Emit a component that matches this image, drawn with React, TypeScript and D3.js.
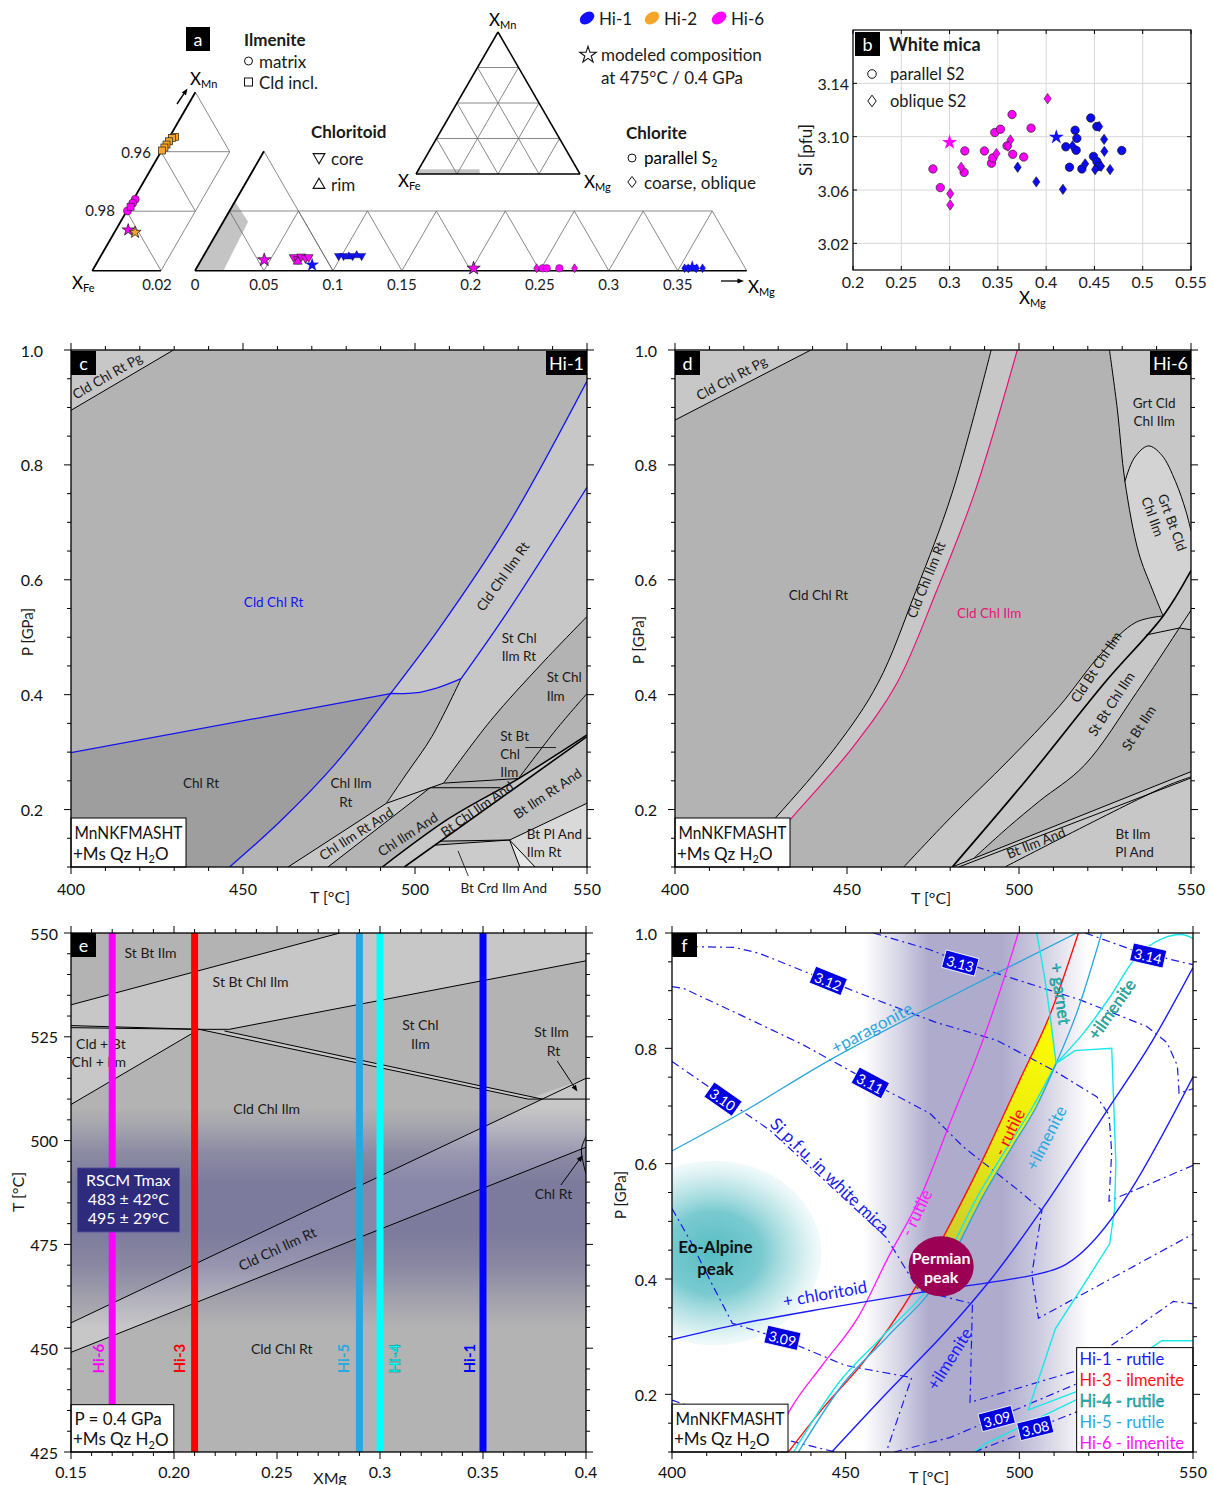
import React from "react";
import * as d3 from "d3";

type Pt = [number, number];
type Scale = d3.ScaleLinear<number, number>;

const FONT = "Lato, 'Open Sans', 'DejaVu Sans', sans-serif";
const MED = "#b3b3b3";
const DARK = "#9e9e9e";
const LIGHT = "#c7c7c7";
const LIGHTER = "#d9d9d9";
const BLUE = "#1414f0";
const MAG = "#ff00ff";
const ORANGE = "#f5a52a";

/* ======================= DATA ======================= */
// ---- panel a : ternary strips, points are [X_Mg, X_Mn]
const stripTicks = [0, 0.05, 0.1, 0.15, 0.2, 0.25, 0.3, 0.35];
const stripTickLabels = ["0", "0.05", "0.1", "0.15", "0.2", "0.25", "0.3", "0.35"];
const ternaryLines = [0.25, 0.5, 0.75];
const ilmHi2Squares: Pt[] = [[0.0016, 0.045], [0.0009, 0.0446], [0.0006, 0.0435], [0.0004, 0.0424], [0.0003, 0.0414], [0.0001, 0.0404]];
const ilmHi6Circles: Pt[] = [[0.0005, 0.024], [0.0004, 0.0227], [0.0002, 0.0201]];
const ilmHi6Squares: Pt[] = [[0.0004, 0.0215]];
const ilmStarHi6: Pt = [0.0036, 0.0137];
const ilmStarHi2: Pt = [0.006, 0.0129];
const cldStarHi6: Pt = [0.0457, 0.009];
const cldCoreHi6: Pt[] = [[0.0659, 0.0113], [0.0697, 0.0096], [0.0711, 0.0118], [0.0749, 0.0104], [0.0768, 0.0113]];
const cldRimHi6: Pt[] = [[0.0707, 0.0076]];
const cldStarHi1: Pt = [0.0825, 0.0048];
const cldCoreHi1: Pt[] = [[0.0979, 0.0124], [0.1015, 0.0124], [0.1081, 0.0124], [0.1146, 0.0124]];
const cldRimHi1: Pt[] = [[0.1056, 0.0118], [0.1108, 0.0128]];
const chlStarHi6: Pt = [0.201, 0.002];
const chlCirclesHi6 = [0.2511, 0.254, 0.2632];
const chlDiamondsHi6 = [0.2467, 0.2742];
const chlStarHi1 = 0.359;
const chlDiamondsHi1 = [0.354, 0.3566, 0.3626, 0.367];
const topBand: Pt[] = [[0, 0], [0, 0.033], [0.37, 0.033], [0.39, 0]];
const stripBand: Pt[] = [[0, 0], [0, 0.058], [0.018, 0.041], [0.0206, 0]];

// ---- panel b : white mica [X_Mg, Si]
const bXTicks = [0.2, 0.25, 0.3, 0.35, 0.4, 0.45, 0.5, 0.55];
const bXLabels = ["0.2", "0.25", "0.3", "0.35", "0.4", "0.45", "0.5", "0.55"];
const bYTicks = [3.02, 3.06, 3.1, 3.14];
const bYLabels = ["3.02", "3.06", "3.10", "3.14"];
const wmCircHi6: Pt[] = [[0.2828, 3.0758], [0.2904, 3.0618], [0.3158, 3.0893], [0.3151, 3.0732], [0.3361, 3.0893], [0.3434, 3.0801], [0.3447, 3.084], [0.3468, 3.1031], [0.3527, 3.1056], [0.3647, 3.1166], [0.3595, 3.0931], [0.3654, 3.0868], [0.3768, 3.0847], [0.3844, 3.1064]];
const wmDiaHi6: Pt[] = [[0.4015, 3.1285], [0.363, 3.0975], [0.3485, 3.0873], [0.3606, 3.0929], [0.312, 3.077], [0.3007, 3.0572], [0.3007, 3.0488]];
const wmCircHi1: Pt[] = [[0.4462, 3.114], [0.4525, 3.1076], [0.43, 3.1048], [0.4318, 3.0987], [0.4204, 3.0924], [0.4311, 3.0898], [0.449, 3.0852], [0.4525, 3.0814], [0.4242, 3.0771], [0.437, 3.0758], [0.454, 3.0776], [0.4783, 3.0896]];
const wmDiaHi1: Pt[] = [[0.4549, 3.1076], [0.46, 3.098], [0.4603, 3.089], [0.4273, 3.0931], [0.4404, 3.0796], [0.4507, 3.0753], [0.4569, 3.0778], [0.4662, 3.0753], [0.3705, 3.0771], [0.3898, 3.0661], [0.4174, 3.0605]];
const wmStarHi6: Pt = [0.3, 3.0957];
const wmStarHi1: Pt = [0.4105, 3.0997];

// ---- shared P-T axes
const tMinor = d3.range(400, 551, 10);
const tMajor = [400, 450, 500, 550];
const tMajorLab = ["400", "450", "500", "550"];
const pMinor = d3.range(2, 21).map((i) => i * 0.05);
const pMajor = [0.2, 0.4, 0.6, 0.8, 1.0];
const pMajorLab = ["0.2", "0.4", "0.6", "0.8", "1.0"];

// ---- panel c (Hi-1) [T, P]
const cPgLine: Pt[] = [[400, 0.895], [429.8, 1.0]];
const cBlueA: Pt[] = [[446.1, 0.1], [460.9, 0.18], [476.9, 0.28], [492.9, 0.402], [506.9, 0.514], [527, 0.695], [550, 0.946]];
const cBlueB: Pt[] = [[513.4, 0.428], [527, 0.545], [550, 0.761]];
const cChldA: Pt[] = [[400, 0.299], [492.9, 0.402]];
const cChldB: Pt[] = [[492.9, 0.402], [500, 0.403], [506.5, 0.412], [513.4, 0.428]];
const cBlkCurve: Pt[] = [[513.4, 0.428], [504.9, 0.327], [497.5, 0.262], [491.7, 0.211]];
const cSteep: Pt[] = [[550, 0.536], [537, 0.455], [522, 0.355], [508.3, 0.246]];
const cStBt: Pt[] = [[550, 0.402], [541, 0.339], [530.1, 0.254]];
const cL1: Pt[] = [[463.1, 0.1], [491.7, 0.211]];
const cL2: Pt[] = [[474.7, 0.1], [504.4, 0.238]];
const cHa: Pt[] = [[491.7, 0.211], [508.3, 0.246]];
const cHb: Pt[] = [[504.4, 0.238], [524.8, 0.238]];
const cHc: Pt[] = [[508.3, 0.246], [530.1, 0.254]];
const cL3: Pt[] = [[490.5, 0.1], [510, 0.185], [530.1, 0.254], [550, 0.33]];
const cL4: Pt[] = [[496.9, 0.1], [550, 0.327]];
const cL5a: Pt[] = [[507.4, 0.145], [527.5, 0.147], [550, 0.211]];
const cL5b: Pt[] = [[505.8, 0.138], [527.5, 0.147]];
const cL6a: Pt[] = [[527.5, 0.147], [530.5, 0.1]];
const cL6b: Pt[] = [[527.5, 0.147], [534.9, 0.1]];
const cLeader: Pt[] = [[532, 0.308], [541, 0.308]];

// ---- panel d (Hi-6)
const dPgLine: Pt[] = [[400, 0.878], [439.5, 1.0]];
const dLineA: Pt[] = [[416, 0.1], [429.3, 0.186], [447, 0.311], [459, 0.42], [470, 0.58], [480.5, 0.75], [491.9, 1.0]];
const dMagenta: Pt[] = [[421, 0.1], [434, 0.186], [452, 0.311], [464.5, 0.42], [476, 0.58], [487, 0.75], [499.5, 1.0]];
const dGrt: Pt[] = [[526.3, 1.0], [528.6, 0.896], [530.8, 0.771], [534.8, 0.647], [538.7, 0.584], [541.9, 0.537]];
const dEllipse: Pt[] = [[530.8, 0.771], [533.5, 0.812], [537.6, 0.833], [541.5, 0.817], [545.5, 0.771], [548.5, 0.72], [550, 0.685]];
const dCldBt: Pt[] = [[466.5, 0.1], [480.1, 0.186], [497, 0.286], [511.6, 0.379], [524, 0.472], [534, 0.526], [541.9, 0.537]];
const dThick: Pt[] = [[480.6, 0.1], [502.6, 0.255], [525.2, 0.423], [541.9, 0.537], [550, 0.616]];
const dStBt: Pt[] = [[487, 0.116], [497, 0.17], [506, 0.215], [519, 0.277], [534.2, 0.404], [546.6, 0.516]];
const dSmall1: Pt[] = [[537, 0.504], [546.6, 0.516], [550, 0.513]];
const dSmall2: Pt[] = [[546.6, 0.516], [550, 0.547]];
const dBt1: Pt[] = [[480.6, 0.1], [550, 0.266]];
const dBt2: Pt[] = [[482.5, 0.1], [550, 0.255]];
const dBt3: Pt[] = [[495.9, 0.1], [542.1, 0.239], [550, 0.257]];

// ---- panel e (T-X section)
const xmgMinor = d3.range(15, 41).map((i) => i / 100);
const xmgMajor = [0.15, 0.2, 0.25, 0.3, 0.35, 0.4];
const xmgMajorLab = ["0.15", "0.20", "0.25", "0.3", "0.35", "0.4"];
const eTMinor = d3.range(425, 551, 5);
const eTMajor = [425, 450, 475, 500, 525, 550];
const eTMajorLab = ["425", "450", "475", "500", "525", "550"];
const eLineTop: Pt[] = [[0.15, 532.7], [0.2805, 550]];
const eDoubleA: Pt[] = [[0.15, 527.7], [0.2122, 526.8]];
const eDoubleB: Pt[] = [[0.15, 527.2], [0.2122, 526.8]];
const eShortH: Pt[] = [[0.2122, 526.8], [0.2268, 526.8]];
const eStChlUpper: Pt[] = [[0.2268, 526.8], [0.4, 543.3]];
const eDiagA: Pt[] = [[0.2122, 526.8], [0.3719, 510]];
const eDiagB: Pt[] = [[0.2245, 526.4], [0.3787, 510]];
const eH510: Pt[] = [[0.3719, 510], [0.4, 510]];
const eCldBt: Pt[] = [[0.15, 508.7], [0.2122, 526.8]];
const eRtUpper: Pt[] = [[0.15, 456.1], [0.4, 515]];
const eRtLower: Pt[] = [[0.15, 449.0], [0.4, 498.4]];
const eChlRtLoop: Pt[] = [[0.4, 501], [0.3978, 498], [0.3985, 495], [0.4, 492]];
const eBarsX = [0.17, 0.21, 0.29, 0.3, 0.35];
const eBarsName = ["Hi-6", "Hi-3", "Hi-5", "Hi-4", "Hi-1"];
const eBarsLabelX = [0.163, 0.2025, 0.2822, 0.3068, 0.3432];
const ePurpleT = [455, 462, 470, 478, 490, 497, 503, 508];
const ePurpleA = [0, 0.15, 0.35, 0.45, 0.45, 0.33, 0.13, 0];

// ---- panel f (P-T with isopleths)
const fParagonite: Pt[] = [[400, 0.622], [420.5, 0.69], [446.4, 0.783], [480, 0.889], [516.5, 1.0]];
const fHi6: Pt[] = [[428, 0.1], [434, 0.173], [443.2, 0.25], [453.9, 0.337], [461.7, 0.431], [472.4, 0.554], [480, 0.67], [489.2, 0.809], [496.4, 0.936], [499.7, 1.0]];
const fHi3: Pt[] = [[433.5, 0.1], [444, 0.18], [455, 0.255], [469.5, 0.38], [480.5, 0.5], [490.5, 0.62], [500.5, 0.75], [508.8, 0.858], [517, 1.0]];
const fHi5: Pt[] = [[436.4, 0.1], [449.5, 0.22], [462, 0.3], [477, 0.4], [490.5, 0.554], [498, 0.63], [505, 0.7], [510.6, 0.774]];
const fHi5Up: Pt[] = [[510.6, 0.774], [516.5, 0.861], [523.7, 1.0]];
const fHi4: Pt[] = [[435, 0.1], [448, 0.22], [460.5, 0.3], [475.5, 0.4], [489, 0.554], [496.7, 0.63], [504, 0.7], [510.6, 0.774]];
const fHi4Garnet: Pt[] = [[510.6, 0.774], [508.8, 0.858], [507.4, 0.918], [505, 1.0]];
const fHi4IlmBranch: Pt[] = [[510.6, 0.774], [518.4, 0.826], [526.1, 0.889], [533.8, 0.959], [541.5, 0.991], [547.2, 0.997], [550, 0.99]];
const fHi4Box: Pt[] = [[510.6, 0.774], [516, 0.796], [526.6, 0.8], [527.1, 0.716], [527.8, 0.6], [527.4, 0.52], [526, 0.461], [518, 0.385], [510.4, 0.314], [502.6, 0.173], [518, 0.208]];
const fHi4Low: Pt[] = [[487, 0.1], [490.4, 0.115], [518, 0.195]];
const fHi4TopR: Pt[] = [[538, 0.281], [541, 0.293], [550, 0.293]];
const fHi1Chld: Pt[] = [[400, 0.295], [418, 0.32], [445, 0.35], [471, 0.376], [496.8, 0.399], [502.6, 0.405], [513.3, 0.425], [551, 0.762]];
const fHi1Ilm: Pt[] = [[446, 0.1], [461.5, 0.2], [479.2, 0.311], [492.4, 0.404], [507, 0.525], [525, 0.69], [538, 0.81], [550, 0.94]];
const fIso314: Pt[] = [[519, 1.0], [533.8, 0.968], [550, 0.945]];
const fIso313: Pt[] = [[458, 1.0], [474.3, 0.971], [483, 0.95], [493.5, 0.93], [517.5, 0.884], [536.7, 0.838], [542.5, 0.81], [545.5, 0.77], [546, 0.722], [550, 0.73]];
const fIso312: Pt[] = [[400, 0.977], [418, 0.975], [425, 0.965], [444.5, 0.918], [458.9, 0.884], [476, 0.845], [493.5, 0.814], [509.8, 0.762], [522.3, 0.716], [525.8, 0.685], [526.6, 0.62], [525.8, 0.535], [550, 0.597]];
const fIso311: Pt[] = [[400, 0.907], [403.3, 0.904], [418.6, 0.861], [437.8, 0.806], [457, 0.742], [474.3, 0.687], [483.9, 0.629], [499.7, 0.554], [506.5, 0.519], [503.6, 0.408], [505.5, 0.332], [550, 0.478]];
const fIso310: Pt[] = [[400, 0.777], [411.9, 0.728], [420.5, 0.69], [428.2, 0.658], [445, 0.565], [461.7, 0.472], [471, 0.381], [486.5, 0.357], [485.8, 0.186], [516, 0.24], [544.3, 0.361], [550, 0.357]];
const fIso309a: Pt[] = [[400, 0.522], [405.3, 0.466], [411.1, 0.396], [417.4, 0.323], [431.6, 0.296], [450, 0.25], [469, 0.229], [461.7, 0.1]];
const fIso309b: Pt[] = [[464, 0.1], [480, 0.125], [518, 0.222]];
const fIso308: Pt[] = [[487, 0.1], [518, 0.173]];
const fIso308b: Pt[] = [[400, 0.19], [433.5, 0.12], [447, 0.1]];
const fPurpleT = [455, 465, 474, 495, 505, 520];
const fPurpleA = [0, 0.2, 0.42, 0.42, 0.27, 0];
const fIsoLabels = [
  { t: "3.14", T: 537.1, P: 0.961, r: 13 },
  { t: "3.13", T: 483, P: 0.948, r: 15 },
  { t: "3.12", T: 445, P: 0.917, r: 22 },
  { t: "3.11", T: 457.1, P: 0.74, r: 28 },
  { t: "3.10", T: 414.7, P: 0.712, r: 35 },
  { t: "3.09", T: 431.8, P: 0.298, r: 13 },
  { t: "3.09", T: 493.5, P: 0.158, r: -15 },
  { t: "3.08", T: 504.6, P: 0.142, r: -14 },
];
const fLegendNames = ["Hi-1 - rutile", "Hi-3 - ilmenite", "Hi-4 - rutile", "Hi-5 - rutile", "Hi-6 - ilmenite"];
const fLegendColors = ["#1a1aff", "#ff1010", "#10c8c8", "#2aa8e0", "#ff10ff"];

/* ======================= HELPERS ======================= */
const CR = d3.curveCatmullRom.alpha(0.5);
const LIN = d3.curveLinear;
const rev = (a: Pt[]) => a.slice().reverse();
function pathOf(xs: Scale, ys: Scale, pts: Pt[], curve: d3.CurveFactory = LIN): string {
  return d3.line<Pt>().x((d) => xs(d[0])).y((d) => ys(d[1])).curve(curve)(pts) || "";
}
function polyPath(xs: Scale, ys: Scale, pieces: [Pt[], d3.CurveFactory][]): string {
  return (
    pieces
      .map(([pts, c], i) => {
        const p = pathOf(xs, ys, pts, c);
        return i === 0 ? p : "L" + p.slice(1);
      })
      .join("") + "Z"
  );
}
const starPath = (size: number) => d3.symbol().type(d3.symbolStar).size(size)() as string;
const triPath = (size: number) => d3.symbol().type(d3.symbolTriangle).size(size)() as string;
const diamondPath = (w: number, h: number) => `M0,${-h}L${w},0L0,${h}L${-w},0Z`;

function Txt(props: any) {
  const { x, y, t, rot = 0, size = 13.5, fill = "#1a1a1a", anchor = "middle", weight = "normal", stroke } = props;
  return (
    <text
      x={x}
      y={y}
      transform={rot ? `rotate(${rot},${x},${y})` : undefined}
      fontSize={size}
      fill={fill}
      textAnchor={anchor}
      dominantBaseline="central"
      fontWeight={weight}
      stroke={stroke}
      strokeWidth={stroke ? 0.35 : undefined}
    >
      {t}
    </text>
  );
}

function LetterBox({ x, y, t, w = 25 }: any) {
  return (
    <g>
      <rect x={x} y={y} width={w} height={24} fill="#000" />
      <text x={x + w / 2} y={y + 12} fill="#fff" fontSize={18} textAnchor="middle" dominantBaseline="central">
        {t}
      </text>
    </g>
  );
}

function ModelBox({ x, y, w, h, l1, fit }: any) {
  return (
    <g>
      <rect x={x} y={y} width={w} height={h} fill="#fff" stroke="#000" strokeWidth={1} />
      <text
        x={x + 3.5}
        y={y + h * 0.3}
        fontSize={17}
        dominantBaseline="central"
        fill="#111"
        textLength={fit ? w - 7 : undefined}
        lengthAdjust={fit ? "spacingAndGlyphs" : undefined}
      >
        {l1}
      </text>
      <text x={x + 2} y={y + h * 0.72} fontSize={17} dominantBaseline="central" fill="#111">
        +Ms Qz H
        <tspan fontSize={11} dy={5}>2</tspan>
        <tspan dy={-5}>O</tspan>
      </text>
    </g>
  );
}

function FrameAxes(props: any) {
  const { xs, ys, xMin, xMaj, xLab, yMin, yMaj, yLab, yLabX, xLabY } = props;
  const [xa, xb] = xs.range();
  const [ya, yb] = ys.range();
  const els: any[] = [];
  const Lmaj = 7;
  const Lmin = 4;
  xMin.forEach((v: number, i: number) => {
    const X = xs(v);
    const big = xMaj.some((m: number) => Math.abs(m - v) < 1e-6);
    const L = big ? Lmaj : Lmin;
    els.push(<line key={"xb" + i} x1={X} x2={X} y1={ya} y2={ya + L} stroke="#000" strokeWidth={1} />);
    els.push(<line key={"xt" + i} x1={X} x2={X} y1={yb} y2={yb - L} stroke="#000" strokeWidth={1} />);
  });
  yMin.forEach((v: number, i: number) => {
    const Y = ys(v);
    const big = yMaj.some((m: number) => Math.abs(m - v) < 1e-6);
    const L = big ? Lmaj : Lmin;
    els.push(<line key={"yl" + i} x1={xa} x2={xa - L} y1={Y} y2={Y} stroke="#000" strokeWidth={1} />);
    els.push(<line key={"yr" + i} x1={xb} x2={xb + L} y1={Y} y2={Y} stroke="#000" strokeWidth={1} />);
  });
  xMaj.forEach((v: number, i: number) => {
    els.push(
      <text key={"xl" + i} x={xs(v)} y={xLabY} fontSize={16} textAnchor="middle" dominantBaseline="central" fill="#111">
        {xLab[i]}
      </text>
    );
  });
  yMaj.forEach((v: number, i: number) => {
    els.push(
      <text key={"ylb" + i} x={yLabX} y={ys(v)} fontSize={16} textAnchor="end" dominantBaseline="central" fill="#111">
        {yLab[i]}
      </text>
    );
  });
  els.push(<rect key="frame" x={xa} y={yb} width={xb - xa} height={ya - yb} fill="none" stroke="#000" strokeWidth={1.3} />);
  return <g>{els}</g>;
}

function Arrow({ x1, y1, x2, y2, col = "#000", w = 1.2, head = 7 }: any) {
  const ang = Math.atan2(y2 - y1, x2 - x1);
  const a1 = ang + Math.PI - 0.38;
  const a2 = ang + Math.PI + 0.38;
  return (
    <g>
      <line x1={x1} y1={y1} x2={x2 - Math.cos(ang) * head * 0.6} y2={y2 - Math.sin(ang) * head * 0.6} stroke={col} strokeWidth={w} />
      <path
        d={`M${x2},${y2}L${x2 + Math.cos(a1) * head},${y2 + Math.sin(a1) * head}L${x2 + Math.cos(a2) * head},${y2 + Math.sin(a2) * head}Z`}
        fill={col}
      />
    </g>
  );
}

/* ======================= PANEL A ======================= */
function PanelA() {
  const xM = d3.scaleLinear().domain([0, 0.4]).range([195, 746.7]);
  const yM = d3.scaleLinear().domain([0, 0.1]).range([270.7, 151.3]);
  const pM = (mg: number, mn: number): Pt => [xM(mg + mn / 2), yM(mn)];
  const xL = d3.scaleLinear().domain([0, 0.02]).range([92.3, 161]);
  const yL = d3.scaleLinear().domain([0, 0.06]).range([270.7, 92.2]);
  const pL = (mg: number, mn: number): Pt => [xL(mg + mn / 2), yL(mn)];
  const xT = d3.scaleLinear().domain([0, 1]).range([416, 580]);
  const yT = d3.scaleLinear().domain([0, 1]).range([174, 32]);
  const pT = (mg: number, mn: number): Pt => [xT(mg + mn / 2), yT(mn)];
  let k = 0;
  const seg = (a: Pt, b: Pt, sw = 0.8, col = "#6a6a6a") => (
    <line key={"s" + k++} x1={a[0]} y1={a[1]} x2={b[0]} y2={b[1]} stroke={col} strokeWidth={sw} />
  );
  const polyPts = (pts: Pt[], f: (a: number, b: number) => Pt) => pts.map((p) => f(p[0], p[1]).join(",")).join(" ");

  const midLines: any[] = [];
  midLines.push(seg(pM(0, 0.05), pM(0.35, 0.05)));
  stripTicks.forEach((m) => {
    if (m > 0) midLines.push(seg(pM(m, 0), pM(m, 0.05)));
    midLines.push(seg(pM(m, 0.05), pM(m + 0.05, 0)));
  });
  midLines.push(seg(pM(0, 0.1), pM(0.1, 0)));
  midLines.push(seg(pM(0, 0), pM(0.4, 0), 1.4, "#000"));
  midLines.push(seg(pM(0, 0), pM(0, 0.1), 1.8, "#000"));

  const leftLines: any[] = [];
  [0.02, 0.04].forEach((mn) => leftLines.push(seg(pL(0, mn), pL(0.02, mn))));
  leftLines.push(seg(pL(0.02, 0), pL(0.02, 0.04)));
  [0.02, 0.04, 0.06].forEach((s) => leftLines.push(seg(pL(0, s), pL(0.02, s - 0.02))));
  leftLines.push(seg(pL(0, 0), pL(0.02, 0), 1.4, "#000"));
  leftLines.push(seg(pL(0, 0), pL(0, 0.06), 1.8, "#000"));

  const topLines: any[] = [];
  ternaryLines.forEach((f) => {
    topLines.push(seg(pT(0, f), pT(1 - f, f)));
    topLines.push(seg(pT(f, 0), pT(f, 1 - f)));
    topLines.push(seg(pT(1 - f, 0), pT(0, 1 - f)));
  });
  topLines.push(seg(pT(0, 0), pT(1, 0), 1.5, "#000"));
  topLines.push(seg(pT(1, 0), pT(0, 1), 1.5, "#000"));
  topLines.push(seg(pT(0, 1), pT(0, 0), 1.5, "#000"));

  const mk = (p: Pt, d: string, fill: string, key: string, rot = 0, sw = 0.7) => (
    <path key={key} d={d} transform={`translate(${p[0]},${p[1]}) rotate(${rot})`} fill={fill} stroke="#111" strokeWidth={sw} />
  );

  return (
    <g>
      <LetterBox x={186} y={27} t="a" w={24} />
      <polygon points={polyPts(topBand, pT)} fill="#c4c4c4" />
      {topLines}
      <text x={489} y={19} fontSize={17} dominantBaseline="central">X<tspan fontSize={11} dy={5}>Mn</tspan></text>
      <text x={398} y={180} fontSize={17} dominantBaseline="central">X<tspan fontSize={11} dy={5}>Fe</tspan></text>
      <text x={584} y={181} fontSize={17} dominantBaseline="central">X<tspan fontSize={11} dy={5}>Mg</tspan></text>

      {leftLines}
      <Arrow x1={177} y1={104} x2={187.5} y2={88.5} w={1.4} head={7} />
      <text x={190} y={78} fontSize={17} dominantBaseline="central">X<tspan fontSize={11} dy={5}>Mn</tspan></text>
      <text x={72} y={282} fontSize={17} dominantBaseline="central">X<tspan fontSize={11} dy={5}>Fe</tspan></text>
      <Txt x={157} y={284} t="0.02" size={15} />
      <Txt x={151} y={152} t="0.96" size={15} anchor="end" />
      <Txt x={115} y={210} t="0.98" size={15} anchor="end" />
      {ilmHi2Squares.map((p, i) => (
        <rect key={"sq" + i} x={pL(p[0], p[1])[0] - 3.5} y={pL(p[0], p[1])[1] - 3.5} width={7} height={7} fill={ORANGE} stroke="#222" strokeWidth={0.7} />
      ))}
      {ilmHi6Circles.map((p, i) => (
        <circle key={"ic" + i} cx={pL(p[0], p[1])[0]} cy={pL(p[0], p[1])[1]} r={4} fill={MAG} stroke="#222" strokeWidth={0.6} />
      ))}
      {ilmHi6Squares.map((p, i) => (
        <rect key={"is" + i} x={pL(p[0], p[1])[0] - 3.5} y={pL(p[0], p[1])[1] - 3.5} width={7} height={7} fill={MAG} stroke="#222" strokeWidth={0.6} />
      ))}
      {mk(pL(ilmStarHi6[0], ilmStarHi6[1]), starPath(45), MAG, "ilst6")}
      {mk(pL(ilmStarHi2[0], ilmStarHi2[1]), starPath(45), ORANGE, "ilst2")}

      <polygon points={polyPts(stripBand, pM)} fill="#c4c4c4" />
      {midLines}
      {stripTicks.map((v, i) => (
        <Txt key={"stl" + i} x={xM(v)} y={284} t={stripTickLabels[i]} size={15} />
      ))}
      <Arrow x1={721} y1={281} x2={744} y2={281} w={1.3} head={7} />
      <text x={748} y={286} fontSize={17} dominantBaseline="central">X<tspan fontSize={11} dy={5}>Mg</tspan></text>

      {cldCoreHi6.map((p, i) => mk(pM(p[0], p[1]), triPath(34), MAG, "c6" + i, 180, 0.6))}
      {cldRimHi6.map((p, i) => mk(pM(p[0], p[1]), triPath(34), MAG, "r6" + i, 0, 0.6))}
      {cldCoreHi1.map((p, i) => mk(pM(p[0], p[1]), triPath(30), "#1010ff", "c1" + i, 180, 0.4))}
      {cldRimHi1.map((p, i) => mk(pM(p[0], p[1]), triPath(30), "#1010ff", "r1" + i, 0, 0.4))}
      {mk(pM(cldStarHi6[0], cldStarHi6[1]), starPath(55), MAG, "cs6")}
      {mk(pM(cldStarHi1[0], cldStarHi1[1]), starPath(55), "#1010ff", "cs1", 0, 0.2)}
      {mk(pM(chlStarHi6[0], chlStarHi6[1]), starPath(55), MAG, "chs6")}
      {chlDiamondsHi6.map((m, i) => mk(pM(m, 0.002), diamondPath(3, 4.5), MAG, "chd6" + i, 0, 0.5))}
      {chlCirclesHi6.map((m, i) => (
        <circle key={"chc" + i} cx={pM(m, 0.002)[0]} cy={pM(m, 0.002)[1]} r={3.8} fill={MAG} stroke="#333" strokeWidth={0.5} />
      ))}
      {chlDiamondsHi1.map((m, i) => mk(pM(m, 0.002), diamondPath(3, 4.5), "#1010ff", "chd1" + i, 0, 0.3))}
      {mk(pM(chlStarHi1, 0.003), starPath(50), "#1010ff", "chs1", 0, 0.2)}

      <Txt x={244} y={39} t="Ilmenite" size={17} weight="bold" anchor="start" />
      <circle cx={248.5} cy={61} r={4} fill="none" stroke="#111" strokeWidth={1} />
      <Txt x={259} y={61} t="matrix" size={17} anchor="start" />
      <rect x={244.5} y={78} width={8} height={8} fill="none" stroke="#111" strokeWidth={1} />
      <Txt x={259} y={82} t="Cld incl." size={17} anchor="start" />

      <Txt x={311} y={131} t="Chloritoid" size={17} weight="bold" anchor="start" />
      <path d={triPath(60)} transform="translate(319,157) rotate(180)" fill="none" stroke="#111" strokeWidth={1.1} />
      <Txt x={331} y={158} t="core" size={17} anchor="start" />
      <path d={triPath(60)} transform="translate(319,185)" fill="none" stroke="#111" strokeWidth={1.1} />
      <Txt x={331} y={184} t="rim" size={17} anchor="start" />

      <Txt x={626} y={132} t="Chlorite" size={17} weight="bold" anchor="start" />
      <circle cx={632} cy={158} r={4} fill="none" stroke="#111" strokeWidth={1} />
      <text x={644} y={157} fontSize={17} dominantBaseline="central">parallel S<tspan fontSize={11} dy={5}>2</tspan></text>
      <path d={diamondPath(4.2, 5.5)} transform="translate(632,182)" fill="none" stroke="#111" strokeWidth={1} />
      <Txt x={644} y={182} t="coarse, oblique" size={17} anchor="start" />

      <ellipse cx={587} cy={18} rx={8} ry={5.5} transform="rotate(-35,587,18)" fill="#1010ff" />
      <Txt x={599} y={18} t="Hi-1" size={17} anchor="start" />
      <ellipse cx={652} cy={18} rx={8} ry={5.5} transform="rotate(-35,652,18)" fill={ORANGE} />
      <Txt x={664} y={18} t="Hi-2" size={17} anchor="start" />
      <ellipse cx={719} cy={18} rx={8} ry={5.5} transform="rotate(-35,719,18)" fill={MAG} />
      <Txt x={731} y={18} t="Hi-6" size={17} anchor="start" />
      <path d={starPath(85)} transform="translate(588,55)" fill="none" stroke="#111" strokeWidth={1.1} />
      <Txt x={601} y={54} t="modeled composition" size={17} anchor="start" />
      <Txt x={601} y={77} t="at 475°C / 0.4 GPa" size={17} anchor="start" />
    </g>
  );
}

/* ======================= PANEL B ======================= */
function PanelB() {
  const x = d3.scaleLinear().domain([0.2, 0.55]).range([853, 1191]);
  const y = d3.scaleLinear().domain([3.0, 3.18]).range([270, 30]);
  const dia = diamondPath(3.6, 5.2);
  return (
    <g>
      {bXTicks.map((v, i) => (
        <line key={"gx" + i} x1={x(v)} x2={x(v)} y1={30} y2={270} stroke="#d8d8d8" strokeWidth={1} />
      ))}
      {bYTicks.map((v, i) => (
        <line key={"gy" + i} x1={853} x2={1191} y1={y(v)} y2={y(v)} stroke="#d8d8d8" strokeWidth={1} />
      ))}
      {bXTicks.map((v, i) => (
        <g key={"tx" + i}>
          <line x1={x(v)} x2={x(v)} y1={270} y2={266} stroke="#000" />
          <line x1={x(v)} x2={x(v)} y1={30} y2={34} stroke="#000" />
          <Txt x={x(v)} y={281} t={bXLabels[i]} size={16} />
        </g>
      ))}
      {bYTicks.map((v, i) => (
        <g key={"ty" + i}>
          <line x1={853} x2={857} y1={y(v)} y2={y(v)} stroke="#000" />
          <line x1={1191} x2={1187} y1={y(v)} y2={y(v)} stroke="#000" />
          <Txt x={849} y={y(v)} t={bYLabels[i]} size={16} anchor="end" />
        </g>
      ))}
      <rect x={853} y={30} width={338} height={240} fill="none" stroke="#000" strokeWidth={1.2} />
      {wmCircHi6.map((p, i) => (
        <circle key={"c6" + i} cx={x(p[0])} cy={y(p[1])} r={4.2} fill={MAG} stroke="#222" strokeWidth={0.7} />
      ))}
      {wmDiaHi6.map((p, i) => (
        <path key={"d6" + i} d={dia} transform={`translate(${x(p[0])},${y(p[1])})`} fill={MAG} stroke="#222" strokeWidth={0.6} />
      ))}
      {wmCircHi1.map((p, i) => (
        <circle key={"c1" + i} cx={x(p[0])} cy={y(p[1])} r={4.2} fill="#0a0af5" stroke="#111" strokeWidth={0.7} />
      ))}
      {wmDiaHi1.map((p, i) => (
        <path key={"d1" + i} d={dia} transform={`translate(${x(p[0])},${y(p[1])})`} fill="#0a0af5" stroke="#111" strokeWidth={0.6} />
      ))}
      <path d={starPath(70)} transform={`translate(${x(wmStarHi6[0])},${y(wmStarHi6[1])})`} fill={MAG} />
      <path d={starPath(70)} transform={`translate(${x(wmStarHi1[0])},${y(wmStarHi1[1])})`} fill="#1010ff" />
      <LetterBox x={855} y={32} t="b" w={25} />
      <Txt x={889} y={44} t="White mica" size={18} weight="bold" anchor="start" />
      <circle cx={872} cy={74} r={4.3} fill="none" stroke="#111" />
      <Txt x={890} y={74} t="parallel S2" size={16.5} anchor="start" />
      <path d={diamondPath(4.2, 5.8)} transform="translate(872,101)" fill="none" stroke="#111" strokeWidth={1} />
      <Txt x={890} y={101} t="oblique S2" size={16.5} anchor="start" />
      <Txt x={805} y={150} t="Si [pfu]" size={17} rot={-90} />
      <text x={1019} y={297} fontSize={17} dominantBaseline="central">X<tspan fontSize={11} dy={5}>Mg</tspan></text>
    </g>
  );
}

/* ======================= PANEL C ======================= */
function PanelC() {
  const x = d3.scaleLinear().domain([400, 550]).range([71, 587]);
  const y = d3.scaleLinear().domain([0.1, 1.0]).range([867, 350]);
  const P = (pts: Pt[], c: d3.CurveFactory = CR) => pathOf(x, y, pts, c);
  const poly = (pieces: [Pt[], d3.CurveFactory][]) => polyPath(x, y, pieces);
  const blk = (pts: Pt[], key: string, w = 1, c: d3.CurveFactory = CR) => <path key={key} d={P(pts, c)} fill="none" stroke="#000" strokeWidth={w} />;
  const T = (t: string, Tt: number, Pp: number, rot = 0, fill = "#1a1a1a", anchor = "middle") => (
    <Txt key={t + Tt + Pp} x={x(Tt)} y={y(Pp)} t={t} rot={rot} fill={fill} anchor={anchor} />
  );
  return (
    <g>
      <defs>
        <clipPath id="clipC">
          <rect x={71} y={350} width={516} height={517} />
        </clipPath>
      </defs>
      <g clipPath="url(#clipC)">
        <rect x={71} y={350} width={516} height={517} fill={MED} />
        <path
          d={poly([
            [cBlueA.slice(3), CR],
            [[[550, 0.946], [550, 0.536]], LIN],
            [cSteep, CR],
            [rev(cHa), LIN],
            [rev(cBlkCurve), CR],
            [rev(cChldB), CR],
          ])}
          fill={LIGHT}
        />
        <path d={poly([[[[400, 0.1], [400, 0.299]], LIN], [cChldA, LIN], [rev(cBlueA.slice(0, 4)), CR]])} fill={DARK} />
        <path d={poly([[[[400, 0.895], [429.8, 1.0], [400, 1.0]], LIN]])} fill={LIGHT} />
        <path d={poly([[cL1, LIN], [[[491.7, 0.211], [504.4, 0.238]], LIN], [rev(cL2), LIN]])} fill={LIGHT} />
        <path d={poly([[cL3, CR], [rev(cL4), LIN]])} fill={LIGHT} />
        <path d={poly([[[[507.4, 0.145], [550, 0.327], [550, 0.211]], LIN], [rev(cL5a), LIN]])} fill="#c1c1c1" />
        <path d={poly([[[[527.5, 0.147], [550, 0.211], [550, 0.1], [534.9, 0.1]], LIN]])} fill={LIGHTER} />
        <path d={poly([[[[527.5, 0.147], [534.9, 0.1], [530.5, 0.1]], LIN]])} fill="#e8e8e8" />
        <path d={poly([[[[496.9, 0.1], [505.8, 0.138], [527.5, 0.147], [530.5, 0.1]], LIN]])} fill="#cbcbcb" />

        {blk(cPgLine, "pg", 1, LIN)}
        {blk(cBlkCurve, "bc")}
        {blk(cSteep, "st")}
        {blk(cStBt, "sb")}
        {blk(cL1, "l1", 1, LIN)}
        {blk(cL2, "l2", 1, LIN)}
        {blk(cHa, "ha", 1, LIN)}
        {blk(cHb, "hb", 1, LIN)}
        {blk(cHc, "hc", 1, LIN)}
        {blk(cL3, "l3", 1.5)}
        {blk(cL4, "l4", 1.6, LIN)}
        {blk(cL5a, "l5a", 1, LIN)}
        {blk(cL5b, "l5b", 1, LIN)}
        {blk(cL6a, "l6a", 1, LIN)}
        {blk(cL6b, "l6b", 1, LIN)}
        {blk(cLeader, "ld", 0.8, LIN)}
        <path d={P(cBlueA)} fill="none" stroke={BLUE} strokeWidth={1.3} />
        <path d={P(cBlueB)} fill="none" stroke={BLUE} strokeWidth={1.3} />
        <path d={P(cChldA, LIN)} fill="none" stroke={BLUE} strokeWidth={1.3} />
        <path d={P(cChldB)} fill="none" stroke={BLUE} strokeWidth={1.3} />

        {T("Cld Chl Rt Pg", 410.5, 0.955, -30)}
        {T("Cld Chl Rt", 458.9, 0.562, 0, BLUE)}
        {T("Cld Chl Ilm Rt", 525.5, 0.606, -55)}
        {T("St Chl", 525.2, 0.498, 0, "#1a1a1a", "start")}
        {T("Ilm Rt", 525.2, 0.467, 0, "#1a1a1a", "start")}
        {T("St Chl", 538.3, 0.43, 0, "#1a1a1a", "start")}
        {T("Ilm", 538.3, 0.398, 0, "#1a1a1a", "start")}
        {T("St Bt", 524.8, 0.328, 0, "#1a1a1a", "start")}
        {T("Chl", 524.8, 0.297, 0, "#1a1a1a", "start")}
        {T("Ilm", 524.8, 0.266, 0, "#1a1a1a", "start")}
        {T("Chl Rt", 437.8, 0.247)}
        {T("Chl Ilm", 481.4, 0.247)}
        {T("Rt", 479.9, 0.214)}
        {T("Chl Ilm Rt And", 482.9, 0.158, -33)}
        {T("Chl Ilm And", 497.9, 0.157, -33)}
        {T("Bt Chl Ilm And", 518, 0.201, -35)}
        {T("Bt Ilm Rt And", 538.5, 0.228, -34)}
        {T("Bt Pl And", 532.5, 0.158, 0, "#1a1a1a", "start")}
        {T("Ilm Rt", 532.5, 0.126, 0, "#1a1a1a", "start")}
      </g>
      <line x1={x(512.5)} y1={y(0.128)} x2={x(515.5)} y2={y(0.1) + 9} stroke="#000" strokeWidth={0.8} />
      <Txt x={x(525.8)} y={888} t="Bt Crd Ilm And" size={13.5} />
      <LetterBox x={71} y={351} t="c" />
      <rect x={546} y={351} width={41} height={24} fill="#000" />
      <Txt x={566.5} y={363} t="Hi-1" size={18} fill="#fff" />
      <ModelBox x={71} y={818} w={115} h={49} l1="MnNKFMASHT" fit />
      <FrameAxes xs={x} ys={y} xMin={tMinor} xMaj={tMajor} xLab={tMajorLab} yMin={pMinor} yMaj={pMajor} yLab={pMajorLab} yLabX={43} xLabY={888} />
      <Txt x={330} y={896} t="T [°C]" size={16} />
      <Txt x={27} y={632} t="P [GPa]" size={15} rot={-90} />
    </g>
  );
}

/* ======================= PANEL D ======================= */
function PanelD() {
  const x = d3.scaleLinear().domain([400, 550]).range([675, 1191]);
  const y = d3.scaleLinear().domain([0.1, 1.0]).range([867, 350]);
  const P = (pts: Pt[], c: d3.CurveFactory = CR) => pathOf(x, y, pts, c);
  const poly = (pieces: [Pt[], d3.CurveFactory][]) => polyPath(x, y, pieces);
  const blk = (pts: Pt[], key: string, w = 1, c: d3.CurveFactory = CR, col = "#000") => (
    <path key={key} d={P(pts, c)} fill="none" stroke={col} strokeWidth={w} />
  );
  const T = (t: string, Tt: number, Pp: number, rot = 0, fill = "#1a1a1a") => <Txt key={t + Tt + Pp} x={x(Tt)} y={y(Pp)} t={t} rot={rot} fill={fill} />;
  return (
    <g>
      <defs>
        <clipPath id="clipD">
          <rect x={675} y={350} width={516} height={517} />
        </clipPath>
      </defs>
      <g clipPath="url(#clipD)">
        <rect x={675} y={350} width={516} height={517} fill={MED} />
        <path d={poly([[[[400, 0.878], [439.5, 1.0], [400, 1.0]], LIN]])} fill={LIGHT} />
        <path d={poly([[dLineA, CR], [rev(dMagenta), CR]])} fill={LIGHT} />
        <path d={poly([[dGrt, CR], [dThick.slice(3), LIN], [[[550, 0.616], [550, 1.0]], LIN]])} fill={LIGHT} />
        <path d={poly([[dEllipse, CR], [[[550, 0.685], [550, 0.616]], LIN], [rev(dThick.slice(3)), LIN], [rev(dGrt.slice(2)), CR]])} fill="#d3d3d3" />
        <path d={poly([[dCldBt, CR], [rev(dThick.slice(0, 4)), CR]])} fill={LIGHT} />
        <path d={poly([[dThick, CR], [[[550, 0.616], [550, 0.513], [546.6, 0.516]], LIN], [rev(dStBt), CR], [[[487, 0.116], [480.6, 0.1]], LIN]])} fill={LIGHT} />
        <path d={poly([[[[480.6, 0.1], [550, 0.266], [550, 0.1]], LIN]])} fill={LIGHT} />

        {blk(dPgLine, "pg", 1, LIN)}
        {blk(dLineA, "la")}
        {blk(dMagenta, "mg", 1.2, CR, "#e8137a")}
        {blk(dGrt, "grt")}
        {blk(dEllipse, "el")}
        {blk(dCldBt, "cb")}
        {blk(dThick, "th", 1.7)}
        {blk(dStBt, "sb")}
        {blk(dSmall1, "s1", 1, LIN)}
        {blk(dSmall2, "s2", 1, LIN)}
        {blk(dBt1, "b1", 1, LIN)}
        {blk(dBt2, "b2", 1, LIN)}
        {blk(dBt3, "b3", 1)}

        {T("Cld Chl Rt Pg", 416.4, 0.951, -28)}
        {T("Cld Chl Rt", 441.7, 0.573)}
        {T("Cld Chl Ilm Rt", 473, 0.6, -68)}
        {T("Cld Chl Ilm", 491.3, 0.542, 0, "#e8137a")}
        {T("Grt Cld", 539.3, 0.908)}
        {T("Chl Ilm", 539.3, 0.876)}
        {T("Grt Bt Cld", 544.6, 0.7, 70)}
        {T("Chl Ilm", 538.9, 0.71, 70)}
        {T("Cld Bt Chl Ilm", 522.4, 0.448, -57)}
        {T("St Bt Chl Ilm", 526.8, 0.384, -57)}
        {T("St Bt Ilm", 534.8, 0.342, -57)}
        {T("Bt Ilm And", 504.9, 0.142, -22)}
        {T("Bt Ilm", 533.1, 0.158)}
        {T("Pl And", 533.6, 0.126)}
      </g>
      <LetterBox x={675} y={351} t="d" />
      <rect x={1150} y={351} width={41} height={24} fill="#000" />
      <Txt x={1170.5} y={363} t="Hi-6" size={18} fill="#fff" />
      <ModelBox x={675} y={818} w={115} h={49} l1="MnNKFMASHT" fit />
      <FrameAxes xs={x} ys={y} xMin={tMinor} xMaj={tMajor} xLab={tMajorLab} yMin={pMinor} yMaj={pMajor} yLab={pMajorLab} yLabX={657} xLabY={888} />
      <Txt x={931} y={897} t="T [°C]" size={16} />
      <Txt x={638} y={640} t="P [GPa]" size={15} rot={-90} />
    </g>
  );
}

/* ======================= PANEL E ======================= */
function PanelE() {
  const x = d3.scaleLinear().domain([0.15, 0.4]).range([71, 586]);
  const y = d3.scaleLinear().domain([425, 550]).range([1452, 933]);
  const P = (pts: Pt[], c: d3.CurveFactory = LIN) => pathOf(x, y, pts, c);
  const poly = (pieces: [Pt[], d3.CurveFactory][]) => polyPath(x, y, pieces);
  const blk = (pts: Pt[], key: string, w = 1, c: d3.CurveFactory = LIN) => <path key={key} d={P(pts, c)} fill="none" stroke="#000" strokeWidth={w} />;
  const T = (t: string, X: number, Tt: number, rot = 0) => <Txt key={t + X + Tt} x={x(X)} y={y(Tt)} t={t} rot={rot} size={14} />;
  const gy1 = y(ePurpleT[0]);
  const gy2 = y(ePurpleT[ePurpleT.length - 1]);
  const barCols = [MAG, "#ff0000", "#29a8e0", "#00ffff", "#0000ff"];
  return (
    <g>
      <defs>
        <clipPath id="clipE">
          <rect x={71} y={933} width={515} height={519} />
        </clipPath>
        <linearGradient id="ePurple" gradientUnits="userSpaceOnUse" x1={0} x2={0} y1={gy1} y2={gy2}>
          {ePurpleT.map((t, i) => (
            <stop key={i} offset={(t - ePurpleT[0]) / (ePurpleT[ePurpleT.length - 1] - ePurpleT[0])} stopColor="rgb(60,55,130)" stopOpacity={ePurpleA[i]} />
          ))}
        </linearGradient>
      </defs>
      <g clipPath="url(#clipE)">
        <rect x={71} y={933} width={515} height={519} fill={MED} />
        <path d={poly([[eLineTop, LIN], [[[0.4, 550], [0.4, 543.3]], LIN], [rev(eStChlUpper), LIN], [[[0.2268, 526.8], [0.2122, 526.8]], LIN], [rev(eDoubleA), LIN]])} fill={LIGHT} />
        <path d={poly([[[[0.15, 527.2], [0.2122, 526.8], [0.15, 508.7]], LIN]])} fill={LIGHT} />
        <path d={poly([[eRtUpper, LIN], [[[0.4, 498.4]], LIN], [rev(eRtLower), LIN]])} fill={LIGHT} />
        <path d={poly([[[[0.3719, 510], [0.4, 515], [0.4, 510]], LIN]])} fill={LIGHT} />
        <path d={poly([[[[0.2122, 526.8], [0.3719, 510], [0.3787, 510], [0.2245, 526.4]], LIN]])} fill={LIGHT} />
        <rect x={71} y={933} width={515} height={519} fill="url(#ePurple)" />
        {blk(eLineTop, "lt")}
        {blk(eDoubleA, "da")}
        {blk(eDoubleB, "db")}
        {blk(eShortH, "sh")}
        {blk(eStChlUpper, "su")}
        {blk(eDiagA, "ga")}
        {blk(eDiagB, "gb")}
        {blk(eH510, "h5")}
        {blk(eCldBt, "cb")}
        {blk(eRtUpper, "ru")}
        {blk(eRtLower, "rl")}
        {blk(eChlRtLoop, "lp", 1, CR)}
        {T("St Bt Ilm", 0.1886, 545.4)}
        {T("St Bt Chl Ilm", 0.2372, 538.3)}
        {T("St Chl", 0.3196, 527.9)}
        {T("Ilm", 0.3196, 523.4)}
        {T("Cld + Bt", 0.1645, 523.4)}
        {T("Chl + Ilm", 0.1635, 519)}
        {T("St Ilm", 0.3833, 526.2)}
        {T("Rt", 0.3842, 521.7)}
        {T("Cld Chl Ilm", 0.245, 507.8)}
        {T("Chl Rt", 0.3842, 487.3)}
        {T("Cld Chl Ilm Rt", 0.2501, 474, -25)}
        {T("Cld Chl Rt", 0.2523, 449.9)}
        <Arrow x1={x(0.386)} y1={y(519.2)} x2={x(0.3958)} y2={y(511.8)} w={1} head={7} />
        <Arrow x1={x(0.3878)} y1={y(489.3)} x2={x(0.3984)} y2={y(496.5)} w={1} head={7} />
        {eBarsX.map((v, i) => (
          <rect key={"bar" + i} x={x(v) - 3.5} y={933} width={7} height={519} fill={barCols[i]} />
        ))}
        {eBarsX.map((v, i) => (
          <Txt
            key={"bl" + i}
            x={x(eBarsLabelX[i])}
            y={y(447.5)}
            t={eBarsName[i]}
            rot={-90}
            size={15}
            weight="bold"
            fill={barCols[i]}
            stroke={i === 3 ? "#0a7070" : undefined}
          />
        ))}
      </g>
      <rect x={x(0.1531)} y={y(493.4)} width={x(0.2026) - x(0.1531)} height={y(478) - y(493.4)} fill="#2e2a7c" stroke="#4a4a9a" strokeWidth={0.8} />
      <Txt x={x(0.1778)} y={y(490.7)} t="RSCM Tmax" size={16} fill="#fff" />
      <Txt x={x(0.1778)} y={y(486.1)} t="483 ± 42°C" size={16} fill="#fff" />
      <Txt x={x(0.1778)} y={y(481.5)} t="495 ± 29°C" size={16} fill="#fff" />
      <LetterBox x={71} y={933} t="e" />
      <ModelBox x={71} y={y(436.4)} w={x(0.1999) - 71} h={1452 - y(436.4)} l1="P = 0.4 GPa" />
      <FrameAxes xs={x} ys={y} xMin={xmgMinor} xMaj={xmgMajor} xLab={xmgMajorLab} yMin={eTMinor} yMaj={eTMajor} yLab={eTMajorLab} yLabX={58} xLabY={1471} />
      <Txt x={330} y={1477} t="XMg" size={16} />
      <Txt x={17} y={1192} t="T [°C]" size={16} rot={-90} />
    </g>
  );
}

/* ======================= PANEL F ======================= */
function PanelF() {
  const x = d3.scaleLinear().domain([400, 550]).range([672, 1193]);
  const y = d3.scaleLinear().domain([0.1, 1.0]).range([1452, 933]);
  const MX = d3.curveMonotoneX;
  const P = (pts: Pt[], c: d3.CurveFactory = MX) => pathOf(x, y, pts, c);
  const poly = (pieces: [Pt[], d3.CurveFactory][]) => polyPath(x, y, pieces);
  const ln = (pts: Pt[], col: string, key: string, w = 1.2, c: d3.CurveFactory = MX) => (
    <path key={key} d={P(pts, c)} fill="none" stroke={col} strokeWidth={w} />
  );
  const iso = (pts: Pt[], key: string) => (
    <path key={key} d={P(pts, LIN)} fill="none" stroke="#1a1ae8" strokeWidth={1.2} strokeDasharray="8,4,2,4" />
  );
  const g1 = x(fPurpleT[0]);
  const g2 = x(fPurpleT[fPurpleT.length - 1]);
  const Tl = (t: string, Tt: number, Pp: number, rot: number, fill: string, size = 16, stroke?: string) => (
    <Txt key={t + Tt} x={x(Tt)} y={y(Pp)} t={t} rot={rot} fill={fill} size={size} stroke={stroke} />
  );
  const cx = x(477.5);
  const cy = y(0.422);
  return (
    <g>
      <defs>
        <clipPath id="clipF">
          <rect x={672} y={933} width={521} height={519} />
        </clipPath>
        <linearGradient id="fPurple" gradientUnits="userSpaceOnUse" x1={g1} x2={g2} y1={0} y2={0}>
          {fPurpleT.map((t, i) => (
            <stop key={i} offset={(t - fPurpleT[0]) / (fPurpleT[fPurpleT.length - 1] - fPurpleT[0])} stopColor="rgb(62,55,135)" stopOpacity={fPurpleA[i]} />
          ))}
        </linearGradient>
        <radialGradient id="eoAlp" cx="50%" cy="50%" r="50%">
          <stop offset="0" stopColor="#55bcc3" stopOpacity={1} />
          <stop offset="0.45" stopColor="#62c1c7" stopOpacity={0.85} />
          <stop offset="0.8" stopColor="#8fd3d7" stopOpacity={0.45} />
          <stop offset="1" stopColor="#c8eaec" stopOpacity={0.25} />
        </radialGradient>
        <linearGradient id="fYellow" gradientUnits="userSpaceOnUse" x1={0} x2={0} y1={y(0.86)} y2={y(0.42)}>
          <stop offset="0" stopColor="#ffff00" />
          <stop offset="0.5" stopColor="#eaea10" />
          <stop offset="1" stopColor="#c6c636" />
        </linearGradient>
      </defs>
      <g clipPath="url(#clipF)">
        <rect x={672} y={933} width={521} height={519} fill="#fff" />
        <rect x={672} y={933} width={521} height={519} fill="url(#fPurple)" />
        <ellipse cx={x(412)} cy={y(0.445)} rx={x(443) - x(412)} ry={y(0.285) - y(0.445)} fill="url(#eoAlp)" />
        <path d={poly([[fHi3.slice(3, 8), MX], [[[508.8, 0.858], [510.6, 0.774]], LIN], [rev(fHi5.slice(3)), MX]])} fill="url(#fYellow)" />

        {iso(fIso314, "i14")}
        {iso(fIso313, "i13")}
        {iso(fIso312, "i12")}
        {iso(fIso311, "i11")}
        {iso(fIso310, "i10")}
        {iso(fIso309a, "i9a")}
        {iso(fIso309b, "i9b")}
        {iso(fIso308, "i8")}
        {iso(fIso308b, "i8b")}

        {ln(fParagonite, "#2aa5dc", "par", 1.3, CR)}
        {ln(fHi6, "#ff1aff", "h6", 1.3)}
        {ln(fHi3, "#ff1010", "h3", 1.4)}
        {ln(fHi4, "#18e8e8", "h4", 1.4)}
        {ln(fHi5, "#2aa8e0", "h5", 1.4)}
        {ln(fHi5Up, "#2aa8e0", "h5u", 1.3, CR)}
        {ln(fHi4Garnet, "#18e8e8", "h4g", 1.4, CR)}
        {ln(fHi4IlmBranch, "#18e8e8", "h4i", 1.4, CR)}
        {ln(fHi4Box, "#18e8e8", "h4b", 1.4, LIN)}
        {ln(fHi4Low, "#18e8e8", "h4l", 1.4, LIN)}
        {ln(fHi4TopR, "#18e8e8", "h4t", 1.4, LIN)}
        {ln(fHi1Chld, "#1a1aff", "h1c", 1.4)}
        {ln(fHi1Ilm, "#1a1aff", "h1i", 1.4, CR)}

        {fIsoLabels.map((l, i) => (
          <g key={"il" + i} transform={`translate(${x(l.T)},${y(l.P)}) rotate(${l.r})`}>
            <rect x={-17} y={-9} width={34} height={18} fill="#0000e0" stroke="#fff" strokeWidth={0.8} />
            <text x={0} y={0.5} fontSize={14} fill="#fff" textAnchor="middle" dominantBaseline="central">
              {l.t}
            </text>
          </g>
        ))}

        {Tl("+paragonite", 457.5, 0.836, -28, "#2aa5dc", 17)}
        {Tl("Si p.f.u. in white mica", 445.5, 0.58, 44, "#1a1ae8", 17)}
        {Tl("- rutile", 470.3, 0.515, -64, "#ff1aff", 17)}
        {Tl("- rutile", 497, 0.655, -64, "#ff1010", 17)}
        {Tl("+ilmenite", 507.6, 0.645, -63, "#2aa8e0", 17)}
        {Tl("+ garnet", 512, 0.895, 82, "#18c8c8", 17, "#0a6060")}
        {Tl("+ilmenite", 526.5, 0.868, -55, "#18c0b0", 17, "#0a6060")}
        {Tl("+ chloritoid", 444, 0.375, -10, "#1a1aff", 17)}
        {Tl("+ilmenite", 479.8, 0.262, -58, "#1a1aff", 17)}
        <Txt x={x(412.5)} y={y(0.456)} t="Eo-Alpine" size={17} weight="bold" fill="#111" />
        <Txt x={x(412.5)} y={y(0.418)} t="peak" size={17} weight="bold" fill="#111" />

        <ellipse cx={cx} cy={cy} rx={32.5} ry={30} fill="#9b0054" />
        <Txt x={cx} y={cy - 9} t="Permian" size={16} weight="bold" fill="#fff" />
        <Txt x={cx} y={cy + 10} t="peak" size={16} weight="bold" fill="#fff" />
      </g>
      <rect x={x(516.5)} y={y(0.281)} width={x(550) - x(516.5)} height={y(0.1) - y(0.281)} fill="#fff" stroke="#000" strokeWidth={1} />
      {fLegendNames.map((n, i) => (
        <Txt
          key={"lg" + i}
          x={x(517.3)}
          y={y(0.262 - i * 0.0368)}
          t={n}
          size={16.5}
          anchor="start"
          fill={fLegendColors[i]}
          stroke={i === 2 ? "#0a5a5a" : undefined}
        />
      ))}
      <LetterBox x={672} y={933} t="f" />
      <ModelBox x={672} y={y(0.183)} w={x(433.4) - 672} h={1452 - y(0.183)} l1="MnNKFMASHT" fit />
      <FrameAxes xs={x} ys={y} xMin={tMinor} xMaj={tMajor} xLab={tMajorLab} yMin={pMinor} yMaj={pMajor} yLab={pMajorLab} yLabX={657} xLabY={1471} />
      <Txt x={929} y={1476} t="T [°C]" size={16} />
      <Txt x={620} y={1195} t="P [GPa]" size={15} rot={-90} />
    </g>
  );
}

export default function App() {
  return (
    <svg
      width={1213}
      height={1485}
      viewBox="0 0 1213 1485"
      style={{ position: "absolute", left: 0, top: 0, display: "block", background: "#fff" }}
      fontFamily={FONT}
    >
      <rect x={0} y={0} width={1213} height={1485} fill="#fff" />
      <PanelA />
      <PanelB />
      <PanelC />
      <PanelD />
      <PanelE />
      <PanelF />
    </svg>
  );
}
